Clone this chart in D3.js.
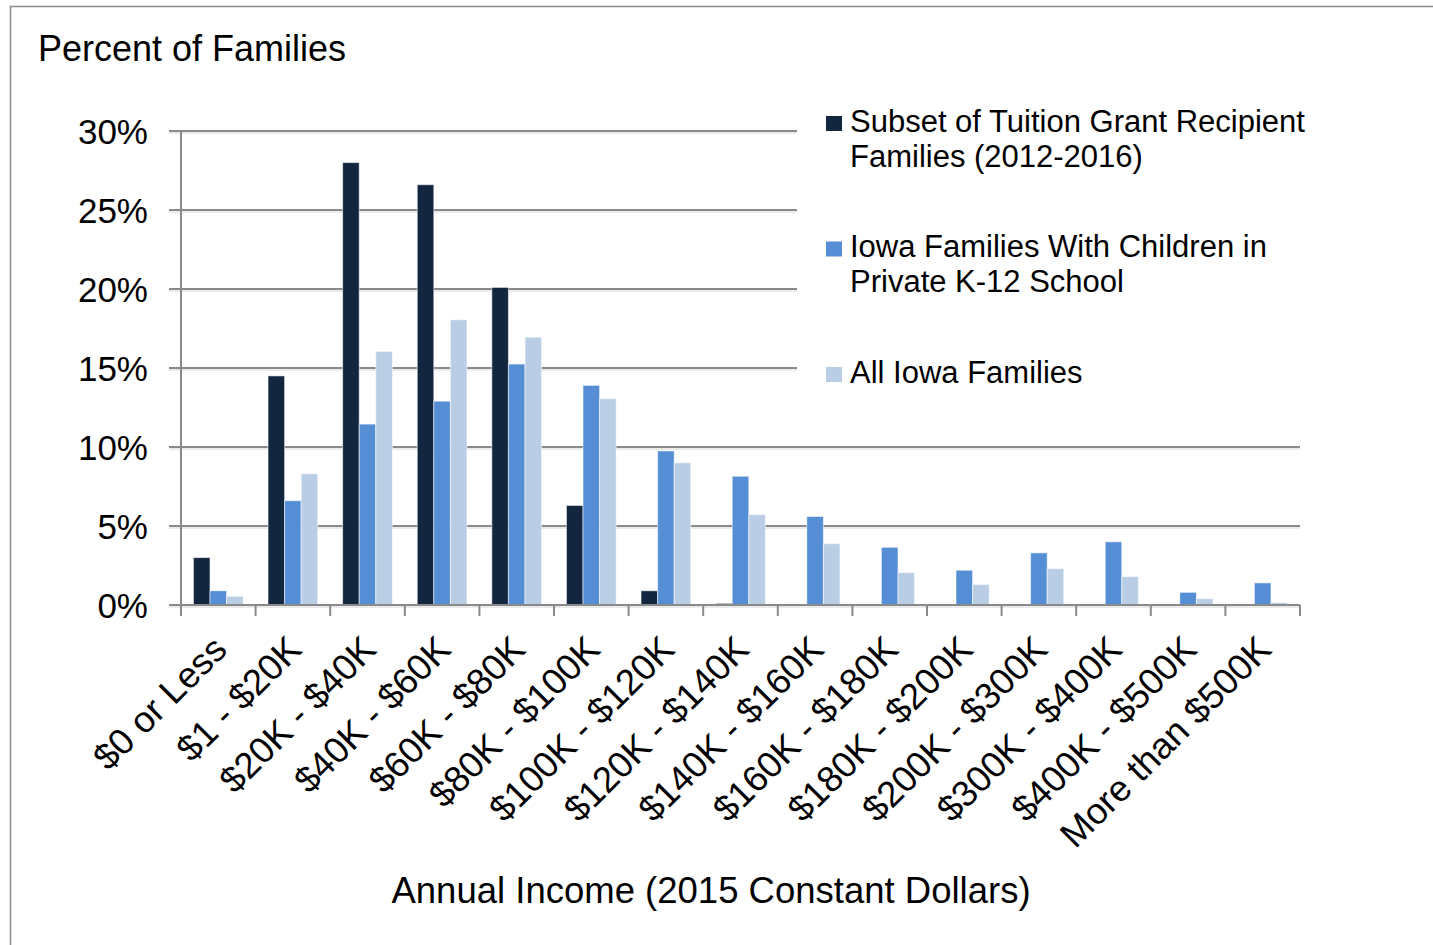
<!DOCTYPE html>
<html>
<head>
<meta charset="utf-8">
<script src="https://cdn.jsdelivr.net/npm/d3@7"></script>
<style>
  html, body { margin: 0; padding: 0; background: #fff; }
  svg { display: block; font-family: "Liberation Sans", Arial, sans-serif; }
</style>
</head>
<body>
<svg id="chart" width="1433" height="945"></svg>
<script>
// Income brackets (2015 constant dollars)
const categories = [
  "$0 or Less", "$1 - $20K", "$20K - $40K", "$40K - $60K", "$60K - $80K",
  "$80K - $100K", "$100K - $120K", "$120K - $140K", "$140K - $160K",
  "$160K - $180K", "$180K - $200K", "$200K - $300K", "$300K - $400K",
  "$400K - $500K", "More than $500K"
];

const seriesNames = [
  "Subset of Tuition Grant Recipient Families (2012-2016)",
  "Iowa Families With Children in Private K-12 School",
  "All Iowa Families"
];

// Percent of families in each bracket
const grantRecipients = [3.0, 14.5, 28.0, 26.6, 20.1, 6.3, 0.9, 0.1, 0.05, 0, 0, 0, 0, 0, 0];
const privateSchool   = [0.9, 6.6, 11.45, 12.9, 15.25, 13.9, 9.75, 8.15, 5.6, 3.65, 2.2, 3.3, 4.0, 0.8, 1.4];
const allIowa         = [0.55, 8.3, 16.05, 18.05, 16.95, 13.05, 9.0, 5.72, 3.88, 2.05, 1.3, 2.3, 1.8, 0.4, 0.15];

const yTicks = [0, 5, 10, 15, 20, 25, 30];

const seriesValues = [grantRecipients, privateSchool, allIowa];
const colors = ["#12263f", "#558ed5", "#b9cde5"];

const svg = d3.select("#chart");

// Outer frame
svg.append("rect")
  .attr("x", 10.5).attr("y", 6.5)
  .attr("width", 1500).attr("height", 1000)
  .attr("fill", "none").attr("stroke", "#8c8c8c").attr("stroke-width", 1.5);

const plot = { left: 181, right: 1300, top: 131, bottom: 605 };

const x = d3.scaleBand()
  .domain(categories)
  .range([plot.left, plot.right])
  .padding(0);

const xs = d3.scaleBand()
  .domain(d3.range(seriesNames.length))
  .range([0, x.bandwidth()])
  .paddingInner(0)
  .paddingOuter(0.75);

const y = d3.scaleLinear()
  .domain([0, 30])
  .range([plot.bottom, plot.top]);

// Gridlines (with faint drop shadow)
const grid = svg.append("g");
yTicks.forEach(t => {
  grid.append("line")
    .attr("x1", plot.left - 12).attr("x2", plot.right)
    .attr("y1", y(t) + 2).attr("y2", y(t) + 2)
    .attr("stroke", "#e4e4e4").attr("stroke-width", 1.5);
  grid.append("line")
    .attr("x1", plot.left - 12).attr("x2", plot.right)
    .attr("y1", y(t)).attr("y2", y(t))
    .attr("stroke", "#8a8a8a").attr("stroke-width", 2);
});

// Y axis line
svg.append("line")
  .attr("x1", plot.left).attr("x2", plot.left)
  .attr("y1", plot.top).attr("y2", plot.bottom + 11)
  .attr("stroke", "#8a8a8a").attr("stroke-width", 2);

// Y tick labels
svg.append("g").selectAll("text")
  .data(yTicks)
  .join("text")
  .attr("x", 148)
  .attr("y", d => y(d))
  .attr("dy", "0.36em")
  .attr("text-anchor", "end")
  .attr("font-size", 35)
  .attr("fill", "#000")
  .text(d => d + "%");

// Bars
const groups = svg.append("g").selectAll("g")
  .data(seriesValues)
  .join("g")
  .attr("fill", (d, i) => colors[i]);

groups.each(function(vals, si) {
  d3.select(this).selectAll("rect")
    .data(vals)
    .join("rect")
    .attr("x", (d, i) => x(categories[i]) + xs(si))
    .attr("width", xs.bandwidth())
    .attr("y", d => y(d))
    .attr("height", d => y(0) - y(d))
    .attr("stroke", "rgba(255,255,255,0.55)")
    .attr("stroke-width", 1);
});

// X axis baseline and tick marks
svg.append("line")
  .attr("x1", plot.left - 12).attr("x2", plot.right)
  .attr("y1", y(0)).attr("y2", y(0))
  .attr("stroke", "#8a8a8a").attr("stroke-width", 2);

const tickXs = categories.map(c => x(c)).concat([plot.right]);
svg.append("g").selectAll("line")
  .data(tickXs)
  .join("line")
  .attr("x1", d => d).attr("x2", d => d)
  .attr("y1", y(0)).attr("y2", y(0) + 11)
  .attr("stroke", "#8a8a8a").attr("stroke-width", 2);

// Rotated category labels
svg.append("g").selectAll("text")
  .data(categories)
  .join("text")
  .attr("transform", d => `translate(${x(d) + x.bandwidth() / 2 - 8},${633}) rotate(-45)`)
  .attr("text-anchor", "end")
  .attr("dy", "0.72em")
  .attr("font-size", 36.5)
  .attr("fill", "#000")
  .text(d => d);

// Legend panel (sits over the upper gridlines)
const legend = svg.append("g");
legend.append("rect")
  .attr("x", 797).attr("y", 95)
  .attr("width", 520).attr("height", 320)
  .attr("fill", "#fff");

const legendLines = [
  ["Subset of Tuition Grant Recipient", "Families (2012-2016)"],
  ["Iowa Families With Children in", "Private K-12 School"],
  ["All Iowa Families"]
];
legendLines.forEach((lines, i) => {
  const top = 116 + i * 125.5;
  legend.append("rect")
    .attr("x", 826).attr("y", top)
    .attr("width", 16).attr("height", 15)
    .attr("fill", colors[i]);
  lines.forEach((ln, j) => {
    legend.append("text")
      .attr("x", 850)
      .attr("y", top + 15.5 + j * 35)
      .attr("font-size", 31)
      .attr("fill", "#000")
      .text(ln);
  });
});

// Titles
svg.append("text")
  .attr("x", 38).attr("y", 61)
  .attr("font-size", 36)
  .attr("fill", "#000")
  .text("Percent of Families");

svg.append("text")
  .attr("x", 711).attr("y", 903)
  .attr("text-anchor", "middle")
  .attr("font-size", 36.5)
  .attr("fill", "#000")
  .text("Annual Income (2015 Constant Dollars)");
</script>
</body>
</html>
